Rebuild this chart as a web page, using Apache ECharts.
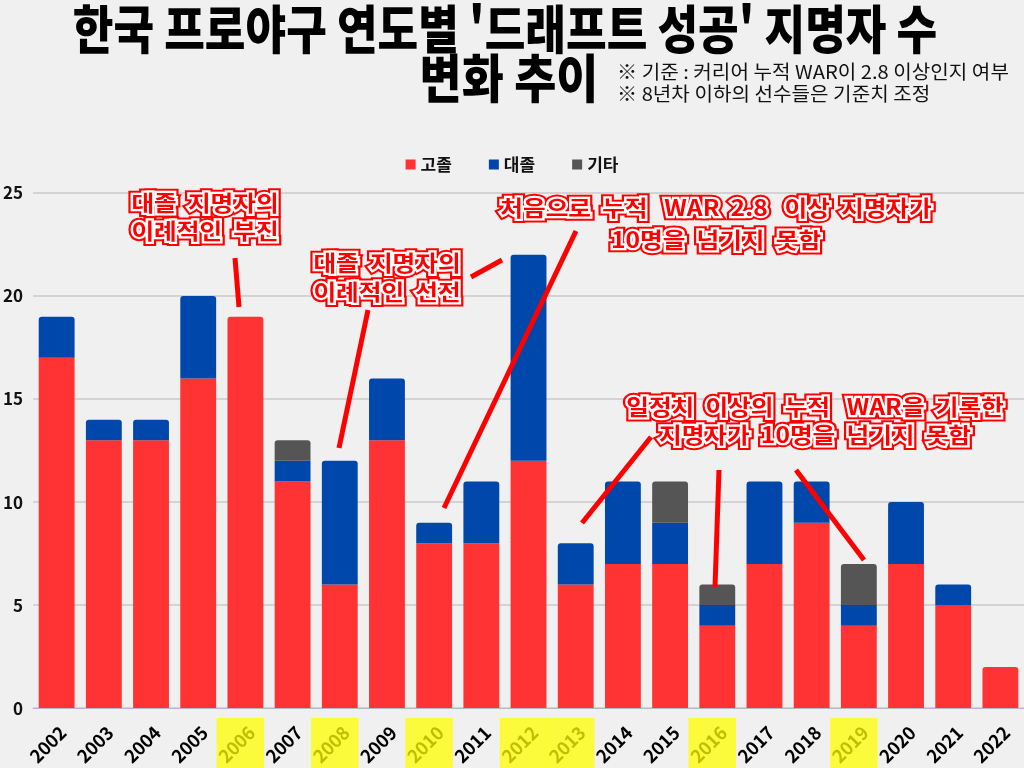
<!DOCTYPE html>
<html lang="ko">
  <head>
    <meta charset="UTF-8" />
    <title>한국 프로야구 연도별 드래프트 성공 지명자 수</title>
    <script src="https://cdn.jsdelivr.net/npm/echarts@6.0.0/dist/echarts.min.js"></script>
    <style>
      html, body { margin: 0; padding: 0; background: #f0f0f0; }
      #chart { width: 1024px; height: 768px; }
    </style>
  </head>
  <body>
    <div id="chart"></div>
    <script type="text/javascript">
      // data
      const years = ["2002", "2003", "2004", "2005", "2006", "2007", "2008", "2009", "2010", "2011",
        "2012", "2013", "2014", "2015", "2016", "2017", "2018", "2019", "2020", "2021", "2022"];
      const highSchool = [17, 13, 13, 16, 19, 11, 6, 13, 8, 8, 12, 6, 7, 7, 4, 7, 9, 4, 7, 5, 2];
      const college = [2, 1, 1, 4, 0, 1, 6, 3, 1, 3, 10, 2, 4, 2, 1, 4, 2, 1, 3, 1, 0];
      const others = [0, 0, 0, 0, 0, 1, 0, 0, 0, 0, 0, 0, 0, 2, 1, 0, 0, 2, 0, 0, 0];
      const seriesNames = ["고졸", "대졸", "기타"];
      const highlightYears = ["2006", "2008", "2010", "2012", "2013", "2016", "2019"];
      const yTicks = { min: 0, max: 25, interval: 5 };

      const colors = ["#ff3333", "#0047ab", "#555555"];
      const FONT = "'Noto Sans CJK KR', 'Noto Sans', sans-serif";

      const chart = echarts.init(document.getElementById("chart"));

      // round only the top segment of each stack
      const stacks = [highSchool, college, others];
      function buildData(idx) {
        return stacks[idx].map((v, i) => {
          let top = -1;
          stacks.forEach((s, k) => { if (s[i] > 0) top = k; });
          return {
            value: v,
            itemStyle: { borderRadius: top === idx ? [3, 3, 0, 0] : 0 },
          };
        });
      }

      let options = {
        backgroundColor: "#f0f0f0",
        color: colors,
        animation: false,
        legend: {
          data: seriesNames,
          top: 151,
          left: "center",
          icon: "rect",
          itemWidth: 10,
          itemHeight: 10,
          itemGap: 37,
          textStyle: { fontFamily: FONT, fontWeight: "bold", fontSize: 17, color: "#111" },
        },
        grid: { left: 30, right: -4, top: 193, bottom: 59 },
        xAxis: {
          type: "category",
          data: years,
          axisTick: { show: false },
          axisLine: { lineStyle: { color: "#b8b8c4", width: 1 } },
          axisLabel: {
            interval: 0,
            rotate: 45,
            margin: 15,
            verticalAlign: "top",
            fontFamily: FONT,
            fontWeight: "bold",
            fontSize: 18,
            color: "#000",
          },
        },
        yAxis: {
          type: "value",
          min: yTicks.min,
          max: yTicks.max,
          interval: yTicks.interval,
          axisLine: { show: false },
          axisTick: { show: false },
          splitLine: { lineStyle: { color: "#cacaca", width: 1.5 } },
          axisLabel: { fontFamily: FONT, fontWeight: "bold", fontSize: 17, color: "#111", margin: 10 },
        },
        series: seriesNames.map((name, idx) => ({
          name: name,
          type: "bar",
          stack: "total",
          barCategoryGap: "24%",
          data: buildData(idx),
        })),
      };
      chart.setOption(options);

      // title, subtitle and hand-drawn style notes
      const graphics = [];
      graphics.push({
        type: "text", x: 505, y: 29, scaleX: 0.85, z: 50,
        style: { text: "한국 프로야구 연도별 '드래프트 성공' 지명자 수", font: "900 52px " + FONT,
          fill: "#000", align: "center", verticalAlign: "middle" },
      });
      graphics.push({
        type: "text", x: 509, y: 78, scaleX: 0.88, z: 50,
        style: { text: "변화 추이", font: "900 52px " + FONT, fill: "#000", align: "center", verticalAlign: "middle" },
      });
      graphics.push({
        type: "text", x: 617, y: 72, scaleX: 1.06, z: 50,
        style: { text: "※ 기준 : 커리어 누적 WAR이 2.8 이상인지 여부", font: "19px " + FONT,
          fill: "#111", align: "left", verticalAlign: "middle" },
      });
      graphics.push({
        type: "text", x: 617, y: 94, scaleX: 1.06, z: 50,
        style: { text: "※ 8년차 이하의 선수들은 기준치 조정", font: "19px " + FONT,
          fill: "#111", align: "left", verticalAlign: "middle" },
      });

      const notes = [
        { text: "대졸  지명자의\n이례적인  부진", x: 205, y: 217, lh: 28 },
        { text: "대졸  지명자의\n이례적인  선전", x: 387, y: 277, lh: 29 },
        { text: "처음으로  누적   WAR  2.8   이상  지명자가\n10명을  넘기지  못함", x: 716, y: 224, lh: 32 },
        { text: "일정치  이상의  누적   WAR을  기록한\n지명자가  10명을  넘기지  못함", x: 815, y: 421, lh: 28 },
      ];
      const pointers = [
        [235, 258, 239, 307],
        [368, 310, 339, 448],
        [502, 260, 471, 277],
        [576, 231, 444, 508],
        [651, 437, 582, 523],
        [719, 470, 715, 587],
        [796, 470, 864, 560],
      ];
      pointers.forEach((p) => {
        graphics.push({
          type: "line", z: 60,
          shape: { x1: p[0], y1: p[1], x2: p[2], y2: p[3] },
          style: { stroke: "#ff0000", lineWidth: 5 },
        });
      });
      notes.forEach((n) => {
        // red outer ring, white inner ring, red letters on top
        const layers = [
          { fill: "#ff0000", stroke: "#ff0000", lineWidth: 8.5, z: 70 },
          { fill: "#ffffff", stroke: "#ffffff", lineWidth: 4.5, z: 71 },
          { fill: "#ff0000", stroke: null, lineWidth: 0, z: 72 },
        ];
        layers.forEach((l) => {
          graphics.push({
            type: "text", x: n.x, y: n.y, scaleX: 1.12, z: l.z,
            style: { text: n.text, font: "bold 22px " + FONT, lineHeight: n.lh, fill: l.fill,
              stroke: l.stroke, lineWidth: l.lineWidth, lineJoin: "round", align: "center", verticalAlign: "middle" },
          });
        });
      });

      // yellow marker boxes over the highlighted year labels
      const catWidth = (1024 - 30 + 4) / years.length;
      highlightYears.forEach((y) => {
        const cx = chart.convertToPixel({ xAxisIndex: 0 }, y);
        graphics.push({
          type: "rect", z: 80,
          shape: { x: cx - catWidth / 2 - 5, y: 718, width: catWidth, height: 50 },
          style: { fill: "rgba(255,255,0,0.75)" },
        });
      });

      chart.setOption({ graphic: graphics });
    </script>
  </body>
</html>
